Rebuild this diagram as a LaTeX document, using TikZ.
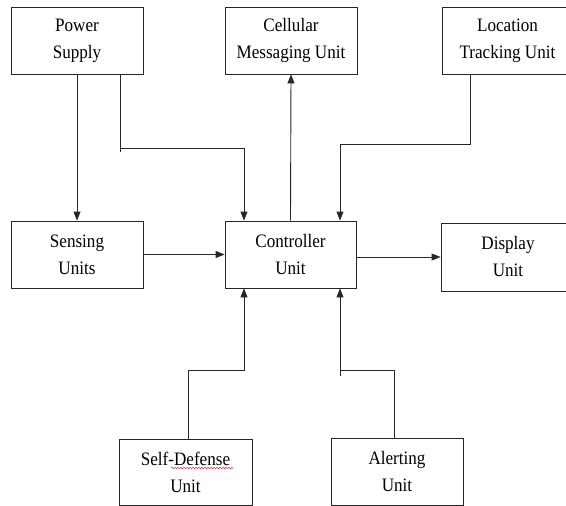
\documentclass[tikz,border=0pt]{standalone}
\usepackage{fontspec}
\setmainfont[FakeStretch=0.9]{Liberation Serif}
\usetikzlibrary{arrows.meta,decorations.pathmorphing}
\begin{document}
\begin{tikzpicture}[x=1pt,y=-1pt,
  box/.style={draw=black!85,line width=0.9pt,inner sep=0pt,align=center,
    font=\rmfamily\fontsize{19}{27}\selectfont},
  conn/.style={draw=black!85,line width=0.9pt},
  arr/.style={conn,-{Triangle[length=9pt,width=7pt]}},
  wavy/.style={draw=red!80,line width=0.5pt,decorate,
    decoration={snake,amplitude=0.8pt,segment length=3pt}}]
\clip (0,0) rectangle (566,506);
\fill[white] (0,0) rectangle (566,506);
% boxes
\node[box,minimum width=132,minimum height=67] (ps) at (77,40.5) {Power\\Supply};
\node[box,minimum width=132,minimum height=67] (cell) at (291,40.5) {Cellular\\Messaging Unit};
\node[box,minimum width=131,minimum height=67] (loc) at (507.5,40.5) {Location\\Tracking Unit};
\node[box,minimum width=132,minimum height=67] (sens) at (77,254.5) {Sensing\\Units};
\node[box,minimum width=131,minimum height=67] (ctrl) at (290.5,254.5) {Controller\\Unit};
\node[box,minimum width=134,minimum height=68] (disp) at (508,257) {Display\\Unit};
\node[box,minimum width=133,minimum height=66] (self) at (185.5,472) {Self-Defense\\Unit};
\node[box,minimum width=132,minimum height=67] (alert) at (397,471.5) {Alerting\\Unit};
% helper coordinates
\coordinate (a1) at (120,152);
\coordinate (a2) at (120,148);
\coordinate (a3) at (244,148);
\coordinate (b1) at (470,144);
\coordinate (b2) at (340,144);
\coordinate (c1) at (188,370);
\coordinate (c2) at (244,370);
\coordinate (d1) at (394,370);
\coordinate (d2) at (340,370);
\coordinate (d3) at (340,376);
\coordinate (w1) at (171,468);
\coordinate (w2) at (233,468);
% connectors
\draw[arr] (ps.south) -- (sens.north);
\draw[conn] (ps.south -| a1) -- (a1);
\draw[arr] (a2) -- (a3) -- (a3 |- ctrl.north);
\draw[arr] (ctrl.north) -- (cell.south);
\draw[arr] (loc.south -| b1) -- (b1) -- (b2) -- (b2 |- ctrl.north);
\draw[arr] (sens.east) -- (ctrl.west);
\draw[arr] (disp.west -| ctrl.east) -- (disp.west);
\draw[arr] (self.north -| c1) -- (c1) -- (c2) -- (c2 |- ctrl.south);
\draw[conn] (alert.north -| d1) -- (d1) -- (d2);
\draw[arr] (d3) -- (d2 |- ctrl.south);
% spell-check underline
\draw[wavy] (w1) -- (w2);
\end{tikzpicture}
\end{document}
